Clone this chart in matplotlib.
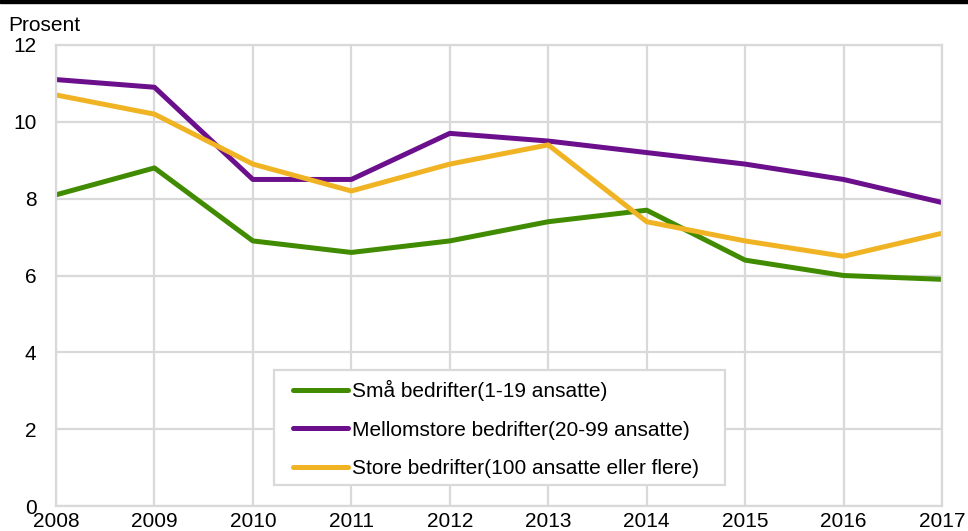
import matplotlib.pyplot as plt
from matplotlib.patches import Rectangle

plt.rcParams['font.family'] = ['Liberation Sans', 'DejaVu Sans']

years = [2008, 2009, 2010, 2011, 2012, 2013, 2014, 2015, 2016, 2017]
sma = [8.1, 8.8, 6.9, 6.6, 6.9, 7.4, 7.7, 6.4, 6.0, 5.9]
mellomstore = [11.1, 10.9, 8.5, 8.5, 9.7, 9.5, 9.2, 8.9, 8.5, 7.9]
store = [10.7, 10.2, 8.9, 8.2, 8.9, 9.4, 7.4, 6.9, 6.5, 7.1]
labels = ['Små bedrifter(1-19 ansatte)',
          'Mellomstore bedrifter(20-99 ansatte)',
          'Store bedrifter(100 ansatte eller flere)']
colors = ['#418b00', '#6b0f8c', '#f0b323']

fig = plt.figure(figsize=(9.68, 5.31), dpi=100)
ax = fig.add_axes([56/968, 25/531, 886/968, 461/531])

for vals, lab, col in zip([sma, mellomstore, store], labels, colors):
    ax.plot(years, vals, color=col, lw=3.6, label=lab,
            solid_capstyle='round', solid_joinstyle='round')

ax.set_xlim(2008, 2017)
ax.set_ylim(0, 12)
ax.set_xticks(years)
ax.set_yticks(range(0, 13, 2))
ax.grid(True, color='#d9d9d9', lw=1.6)
ax.set_axisbelow(True)
for s in ax.spines.values():
    s.set_color('#d9d9d9')
    s.set_linewidth(1.6)
ax.tick_params(length=0, labelsize=15, colors='black')
ax.tick_params(axis='y', pad=14)
ax.tick_params(axis='x', pad=4)

fig.text(8/968, 1 - 31/531, 'Prosent', fontsize=15, va='baseline')

# black rule along the top
fig.patches.append(Rectangle((0, 1 - 2.6/531), 1, 2.6/531, transform=fig.transFigure,
                             color='black', zorder=5))

# legend box drawn by hand (wider side padding than matplotlib gives)
ax.add_patch(Rectangle((274/968, 1 - 485/531), 451/968, 115/531,
                       transform=fig.transFigure, facecolor='white',
                       edgecolor='#d9d9d9', lw=1.6, zorder=4, clip_on=False))
leg = ax.legend(loc='upper left', bbox_to_anchor=(293/968, 1 - 380/531),
                bbox_transform=fig.transFigure, fontsize=15, frameon=False,
                handlelength=2.65, handletextpad=0.2, labelspacing=0.94,
                borderpad=0, borderaxespad=0)
leg.set_zorder(5)

fig.savefig('out.png', dpi=100)
